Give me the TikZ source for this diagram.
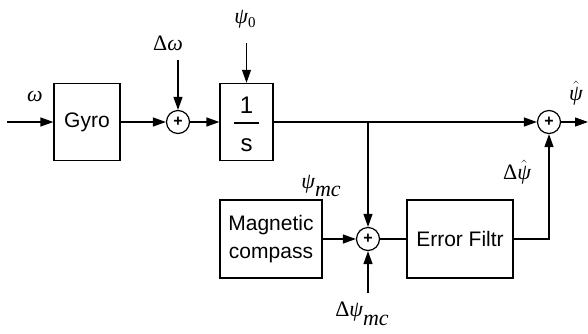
\documentclass[tikz,border=0pt]{standalone}
\usepackage{fontspec}
\setmainfont{Liberation Sans}
\newfontfamily\lserif{Liberation Serif}
\usetikzlibrary{arrows.meta}
\makeatletter
\renewcommand\large{%
  \@setfontsize\large{21pt}{28pt}%
}
\renewcommand\Large{%
  \@setfontsize\Large{22pt}{26pt}%
}
\renewcommand\LARGE{%
  \@setfontsize\LARGE{24pt}{30pt}%
}
\makeatother
\newcommand\lowsub[2]{\raisebox{#1}{#2}}

\begin{document}
\begin{tikzpicture}[x=1pt, y=-1pt, line width=1.2pt, >={Triangle[length=13pt,width=9pt]},
  every node/.style={font=\large},
  block/.style={draw, minimum height=77pt, align=center},
  sum/.style={draw, circle, minimum size=23pt, inner sep=0pt, font=\bfseries\fontsize{16}{16}\selectfont},
  lbl/.style={font=\Large\lserif\itshape, inner sep=1pt}]
  \useasboundingbox (0,0) rectangle (588,333);
  % blocks
  \node[block, minimum width=66pt] (gyro) at (87,122) {Gyro};
  \node[sum] (s1) at (178,122) {+};
  \node[block, minimum width=53pt, inner ysep=0pt, font=\LARGE] (int) at (246.5,122)
    {\setlength\arrayrulewidth{1.2pt}\begin{tabular}{c}\rule{0pt}{30pt}1\\\hline\rule{0pt}{28pt}s\end{tabular}};
  \node[sum] (s3) at (549,122) {+};
  \node[block, minimum width=102pt, minimum height=78pt] (comp) at (271,239) {Magnetic\\compass};
  \node[sum] (s2) at (368,239) {+};
  \node[block, minimum width=106pt, minimum height=78pt] (filt) at (460,239) {Error Filtr};
  % labels
  \node[lbl] (wl) at (35,96) {ω};
  \node[lbl] (dwl) at (168,43) {\upshape Δ\itshape ω};
  \node[lbl] (p0l) at (245,19) {ψ\lowsub{-4pt}{\upshape\fontsize{15}{15}\selectfont 0}};
  \node[lbl] (pmcl) at (321,186) {ψ\lowsub{-8pt}{mc}};
  \node[lbl] (dmcl) at (362,314) {\upshape Δ\itshape ψ\lowsub{-9pt}{mc}};
  \node[lbl] (dhl) at (517,172) {\upshape Δ$\hat{\hbox{\lserif\itshape ψ}}$};
  \node[lbl] (hl) at (576,93) {$\hat{\hbox{\lserif\itshape ψ}}$};
  % free ends
  \coordinate (in) at (7,122);
  \coordinate (out) at (588,122);
  \coordinate (dw) at (178,60);
  \coordinate (p0) at (246.5,43);
  \coordinate (br) at (368,122);
  \coordinate (dmc) at (368,293);
  % signals
  \draw[->] (in) -- (gyro);
  \draw[->] (gyro) -- (s1);
  \draw[->] (dw) -- (s1);
  \draw[->] (s1) -- (int);
  \draw[->] (p0) -- (int);
  \draw[->] (int) -- (s3);
  \draw[->] (s3) -- (out);
  \draw[->] (br) -- (s2);
  \draw[->] (comp) -- (s2);
  \draw[->] (dmc) -- (s2);
  \draw (s2) -- (filt);
  \draw[->] (filt) -| (s3);
\end{tikzpicture}
\end{document}
